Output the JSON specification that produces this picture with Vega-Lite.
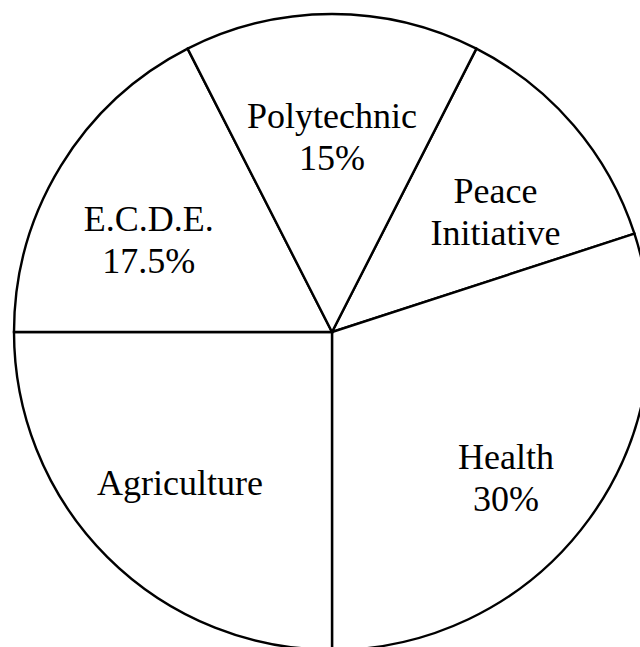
{
  "$schema": "https://vega.github.io/schema/vega-lite/v6.json",
  "autosize": "none",
  "width": 664,
  "height": 664,
  "padding": {"left": 0, "top": 0, "right": 0, "bottom": 0},
  "background": "white",
  "data": {
    "values": [
      {"category": "Peace Initiative", "value": 12.5, "ord": 1, "label": "Peace\nInitiative"},
      {"category": "Health", "value": 30, "ord": 2, "label": "Health\n30%"},
      {"category": "Agriculture", "value": 25, "ord": 3, "label": "Agriculture"},
      {"category": "E.C.D.E.", "value": 17.5, "ord": 4, "label": "E.C.D.E.\n17.5%"},
      {"category": "Polytechnic", "value": 15, "ord": 5, "label": "Polytechnic\n15%"}
    ]
  },
  "encoding": {
    "theta": {"field": "value", "type": "quantitative", "stack": true, "scale": {"range": [0.4712, 6.7544]}},
    "order": {"field": "ord", "type": "quantitative"}
  },
  "layer": [
    {
      "mark": {"type": "arc", "radius": 318, "fill": "white", "stroke": "black", "strokeWidth": 2.4, "strokeJoin": "miter"}
    },
    {
      "mark": {"type": "text", "radius": 215, "font": "Liberation Serif", "fontSize": 36, "lineBreak": "\n", "lineHeight": 42, "align": "center", "baseline": "middle", "color": "black"},
      "encoding": {"text": {"field": "label", "type": "nominal"}}
    }
  ],
  "config": {"view": {"stroke": null}}
}
